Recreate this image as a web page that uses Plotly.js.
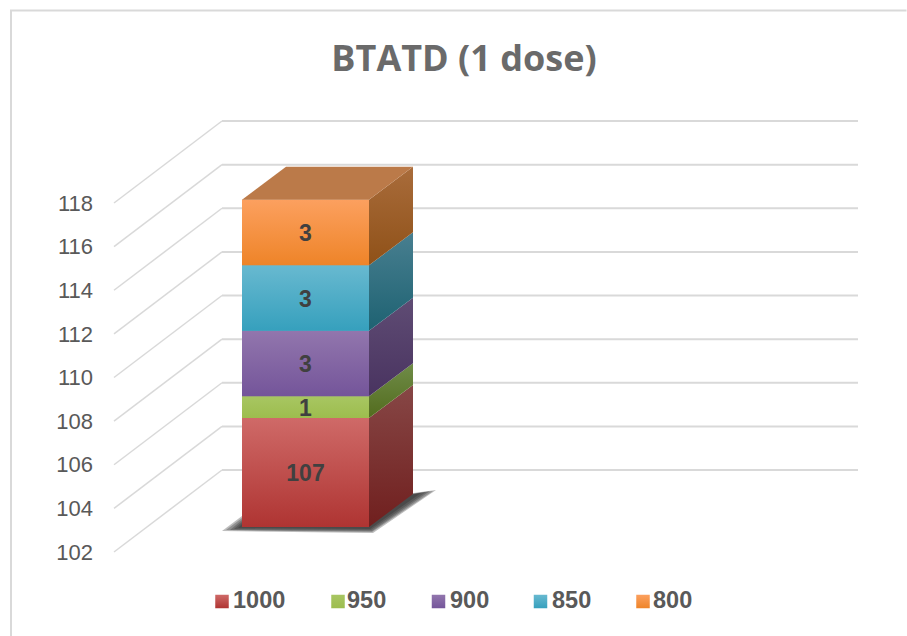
<!DOCTYPE html>
<html>
<head>
<meta charset="utf-8">
<script src="https://cdn.plot.ly/plotly-3.0.1.min.js"></script>
<style>html,body{margin:0;padding:0;background:#fff}#chart{width:907px;height:636px}</style>
</head>
<body>
<div id="chart"></div>
<script>
// ---- data ----
const seriesNames = ['1000', '950', '900', '850', '800'];
const seriesValues = [107, 1, 3, 3, 3];
const yTicks = [102, 104, 106, 108, 110, 112, 114, 116, 118];
const chartTitle = 'BTATD (1 dose)';

// ---- colours ----
const frontTop = ['#cf6a68', '#a8c662', '#9276ad', '#68b9d0', '#fca05f'];
const frontBottom = ['#af3432', '#9dbd4e', '#74559a', '#36a0bd', '#ee8428'];
const sideTop = ['#874746', '#6f8c48', '#5f4c74', '#487f90', '#a96c3b'];
const sideBottom = ['#701f1e', '#536c1e', '#493360', '#1e6272', '#8f5118'];
const topColor = '#bb7a49';

// ---- projection (x axis runs in layout px; y scale is px per value unit) ----
const L = 94, R = 870, T = 100, B = 620, W = 907, H = 636;
const k = (552 - 203) / 16;
const floorValue = 102;
const yRange = [floorValue - (B - 552) / k, floorValue + (552 - T) / k];
const frontShift = 25 / k;              // bar's front plane above the axis plane
const y2Range = [yRange[0] - frontShift, yRange[1] - frontShift];
const wallDx = 108, wallDy = 82 / k, axisX = 114, wallEnd = 858;
const barLeft = 242, barRight = 369, depthDx = 44, depthDy = 33 / k;
const px2y = p => floorValue + (552 - p) / k;

// ---- stacked positions from the values ----
const bases = [], tops = [];
let run = floorValue;
seriesValues.forEach((v, i) => {
  const top = i === 0 ? v : run + v;
  bases.push(run); tops.push(top); run = top;
});

const traces = [];
const poly = (xs, ys, yaxis, extra) => Object.assign({
  type: 'scatter', mode: 'lines', x: xs, y: ys, yaxis: yaxis, xaxis: 'x',
  fill: 'toself', line: { width: 0 }, hoverinfo: 'skip', showlegend: false
}, extra);

// wall gridlines (axis end -> back wall -> right end)
yTicks.forEach(t => {
  traces.push({
    type: 'scatter', mode: 'lines', xaxis: 'x', yaxis: 'y',
    x: [axisX, axisX + wallDx], y: [t, t + wallDy],
    line: { color: '#d9d9d9', width: 1.5 }, hoverinfo: 'skip', showlegend: false
  });
  traces.push({
    type: 'scatter', mode: 'lines', xaxis: 'x', yaxis: 'y',
    x: [axisX + wallDx, wallEnd], y: [t + wallDy, t + wallDy],
    line: { color: '#d9d9d9', width: 2 }, hoverinfo: 'skip', showlegend: false
  });
});

// floor shadow (soft layers, widest first)
const shadowLayers = [
  [[222, 531], [373, 533], [436, 490], [242, 516]],
  [[226, 530], [372, 532], [433, 491], [242, 518]],
  [[230, 530], [372, 531], [430, 491], [242, 520]],
  [[234, 529], [371, 530], [426, 492], [242, 522]],
  [[238, 528], [370, 529], [421, 493], [242, 524]]
];
shadowLayers.forEach(pts => {
  traces.push(poly(pts.map(p => p[0]).concat(pts[0][0]), pts.map(p => px2y(p[1])).concat(px2y(pts[0][1])), 'y', { fillcolor: 'rgba(40,40,40,0.3)' }));
});

// bars (front faces)
seriesNames.forEach((n, i) => {
  traces.push({
    type: 'bar', name: n, xaxis: 'x', yaxis: 'y2',
    x: [(barLeft + barRight) / 2], y: [tops[i] - bases[i]], base: [bases[i]], width: [barRight - barLeft],
    marker: { color: frontBottom[i], line: { width: 0 } }, showlegend: false, hoverinfo: 'name'
  });
});

// front face shading, side faces
seriesNames.forEach((n, i) => {
  const b = bases[i], t = tops[i];
  traces.push(poly([barLeft, barRight, barRight, barLeft, barLeft], [b, b, t, t, b], 'y2', {
    fillcolor: frontBottom[i],
    fillgradient: { type: 'vertical', colorscale: [[0, frontBottom[i]], [1, frontTop[i]]] }
  }));
  traces.push(poly(
    [barRight, barRight + depthDx, barRight + depthDx, barRight, barRight],
    [b, b + depthDy, t + depthDy, t, b], 'y2', {
      fillcolor: sideBottom[i],
      fillgradient: { type: 'vertical', colorscale: [[0, sideBottom[i]], [1, sideTop[i]]] }
    }));
});

// top face
const topV = tops[tops.length - 1];
traces.push(poly(
  [barLeft, barRight, barRight + depthDx, barLeft + depthDx, barLeft],
  [topV, topV, topV + depthDy, topV + depthDy, topV], 'y2', { fillcolor: topColor }));

// data labels
const labelDrop = 3 / k;
traces.push({
  type: 'scatter', mode: 'text', xaxis: 'x', yaxis: 'y2',
  x: seriesValues.map(() => (barLeft + barRight) / 2),
  y: bases.map((b, i) => (b + tops[i]) / 2 - labelDrop),
  text: seriesValues.map(String), textposition: 'middle center',
  textfont: { family: 'Liberation Sans', size: 23, color: '#404040', weight: 700 },
  hoverinfo: 'skip', showlegend: false
});

// legend row
const legendSwatchX = [222, 338, 438.5, 540.5, 643];
const legendTextX = [233, 347, 450, 552, 653];
const legendY = px2y(601.5);
const legendTextY = px2y(602.5);
seriesNames.forEach((n, i) => {
  traces.push({
    type: 'scatter', mode: 'markers', xaxis: 'x', yaxis: 'y', name: n,
    x: [legendSwatchX[i]], y: [legendY],
    marker: { symbol: 'square', size: 13.5, color: frontTop[i], line: { width: 0 },
      gradient: { type: 'vertical', color: frontBottom[i] } },
    hoverinfo: 'name', showlegend: false, cliponaxis: false
  });
  traces.push({
    type: 'scatter', mode: 'text', xaxis: 'x', yaxis: 'y',
    x: [legendTextX[i]], y: [legendTextY], text: [n], textposition: 'middle right',
    textfont: { family: 'Liberation Sans', size: 23.5, color: '#595959', weight: 700 },
    hoverinfo: 'skip', showlegend: false, cliponaxis: false
  });
});

// chart border (left + top edge)
const fx = p => (p - L) / (R - L), fy = p => 1 - (p - T) / (B - T);
const layout = {
  width: W, height: H,
  margin: { l: L, r: W - R, t: T, b: H - B, pad: 0 },
  paper_bgcolor: '#ffffff', plot_bgcolor: 'rgba(0,0,0,0)',
  showlegend: false,
  title: {
    text: chartTitle, x: 464 / W, xanchor: 'center', y: 1 - 58 / H, yanchor: 'middle',
    font: { family: 'Open Sans', size: 36, color: '#6a6a6a', weight: 700 }
  },
  barmode: 'overlay',
  xaxis: { range: [L, R], visible: false, fixedrange: true },
  yaxis: {
    range: yRange, tickmode: 'array', tickvals: yTicks, ticktext: yTicks.map(String),
    showgrid: false, zeroline: false, showline: false, ticks: '',
    tickfont: { family: 'Liberation Sans', size: 22, color: '#595959' }, fixedrange: true
  },
  yaxis2: { range: y2Range, overlaying: 'y', visible: false, fixedrange: true },
  shapes: [{
    type: 'path', xref: 'paper', yref: 'paper',
    path: `M ${fx(11)} ${fy(636)} L ${fx(11)} ${fy(10.5)} L ${fx(906.5)} ${fy(10.5)}`,
    line: { color: '#d9d9d9', width: 2 }
  }]
};
Plotly.newPlot('chart', traces, layout, { displayModeBar: false, responsive: false });
</script>
</body>
</html>
